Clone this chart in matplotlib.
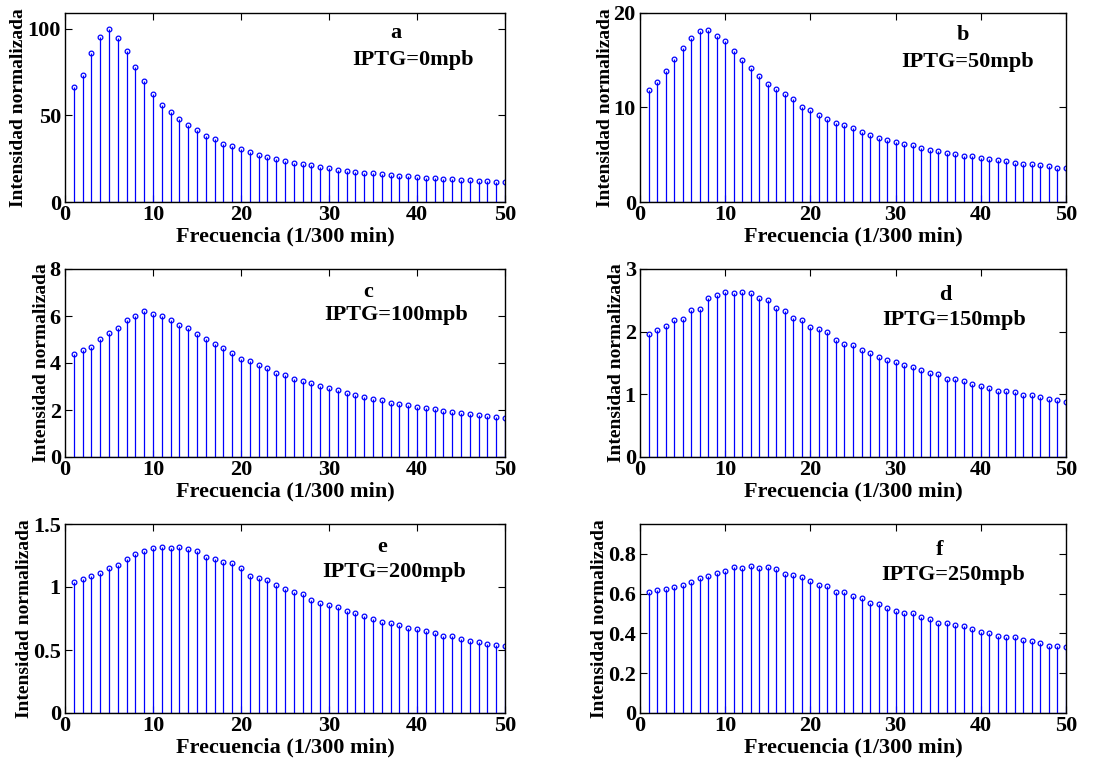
import numpy as np
import matplotlib
matplotlib.use('Agg')
import matplotlib.pyplot as plt

plt.rcParams['font.family'] = 'Liberation Serif'
plt.rcParams['font.weight'] = 'bold'

# frequency index
freq = np.arange(1, 51)

# normalized intensities
int_a = [66.5, 73.1, 85.8, 95.2, 100.0, 94.6, 87.1, 77.7, 69.6, 62.5,
         56.2, 51.9, 47.7, 44.6, 41.3, 38.1, 36.3, 33.7, 32.3, 30.4,
         28.8, 27.3, 25.8, 24.8, 23.5, 22.7, 21.7, 21.2, 20.0, 19.4,
         18.7, 18.1, 17.3, 16.9, 16.5, 16.0, 15.6, 15.2, 14.8, 14.2,
         14.0, 13.7, 13.5, 13.1, 12.7, 12.5, 12.3, 11.9, 11.7, 11.5]
int_b = [11.8, 12.7, 13.9, 15.1, 16.3, 17.4, 18.1, 18.2, 17.6, 17.0,
         16.0, 15.0, 14.2, 13.3, 12.5, 12.0, 11.4, 10.9, 10.1, 9.7,
         9.2, 8.8, 8.4, 8.1, 7.8, 7.4, 7.05, 6.8, 6.6, 6.35,
         6.1, 6.0, 5.7, 5.5, 5.35, 5.2, 5.05, 4.9, 4.85, 4.65,
         4.5, 4.4, 4.3, 4.15, 4.05, 4.0, 3.9, 3.8, 3.65, 3.6]
int_c = [4.39, 4.55, 4.67, 5.04, 5.27, 5.48, 5.82, 6.0, 6.22, 6.1,
         5.98, 5.84, 5.61, 5.47, 5.23, 5.01, 4.82, 4.62, 4.42, 4.19,
         4.09, 3.91, 3.78, 3.57, 3.47, 3.34, 3.22, 3.16, 3.03, 2.92,
         2.83, 2.71, 2.63, 2.56, 2.45, 2.41, 2.31, 2.25, 2.2, 2.12,
         2.08, 2.03, 1.97, 1.91, 1.86, 1.81, 1.77, 1.73, 1.69, 1.66]
int_d = [1.97, 2.02, 2.09, 2.18, 2.21, 2.35, 2.36, 2.54, 2.58, 2.64,
         2.62, 2.64, 2.61, 2.54, 2.50, 2.38, 2.33, 2.22, 2.19, 2.07,
         2.04, 1.99, 1.87, 1.81, 1.78, 1.71, 1.66, 1.60, 1.54, 1.52,
         1.47, 1.43, 1.39, 1.34, 1.32, 1.25, 1.24, 1.22, 1.17, 1.14,
         1.10, 1.06, 1.05, 1.04, 0.99, 0.99, 0.96, 0.93, 0.91, 0.88]
int_e = [1.037, 1.063, 1.087, 1.111, 1.148, 1.177, 1.222, 1.262, 1.286, 1.312,
         1.315, 1.310, 1.315, 1.302, 1.288, 1.241, 1.220, 1.198, 1.188, 1.153,
         1.085, 1.069, 1.053, 1.013, 0.981, 0.958, 0.944, 0.899, 0.876, 0.857,
         0.839, 0.812, 0.796, 0.772, 0.749, 0.720, 0.712, 0.701, 0.672, 0.664,
         0.651, 0.632, 0.608, 0.608, 0.590, 0.571, 0.566, 0.545, 0.537, 0.529]
int_f = [0.607, 0.616, 0.622, 0.632, 0.643, 0.656, 0.681, 0.690, 0.703, 0.713,
         0.732, 0.727, 0.740, 0.727, 0.732, 0.723, 0.701, 0.696, 0.685, 0.666,
         0.644, 0.639, 0.607, 0.607, 0.589, 0.577, 0.554, 0.547, 0.529, 0.513,
         0.503, 0.502, 0.483, 0.471, 0.451, 0.450, 0.443, 0.438, 0.423, 0.409,
         0.401, 0.389, 0.384, 0.381, 0.367, 0.361, 0.351, 0.339, 0.337, 0.331]

letters = ['a', 'b', 'c', 'd', 'e', 'f']
iptg = ['IPTG=0mpb', 'IPTG=50mpb', 'IPTG=100mpb', 'IPTG=150mpb',
        'IPTG=200mpb', 'IPTG=250mpb']
series = [int_a, int_b, int_c, int_d, int_e, int_f]
ytops = [109, 20, 8, 3, 1.5, 0.95]
yticks = [[0, 50, 100], [0, 10, 20], [0, 2, 4, 6, 8], [0, 1, 2, 3],
          [0, 0.5, 1, 1.5], [0, 0.2, 0.4, 0.6, 0.8]]
yticklabels = [['0', '50', '100'], ['0', '10', '20'], ['0', '2', '4', '6', '8'],
               ['0', '1', '2', '3'], ['0', '0.5', '1', '1.5'],
               ['0', '0.2', '0.4', '0.6', '0.8']]

# axes placement in pixels (left, top, right, bottom)
boxes = [(65, 13, 505, 202), (640, 13, 1066, 202),
         (65, 269, 505, 457), (640, 269, 1066, 457),
         (65, 524, 505, 713), (640, 524, 1066, 713)]
# text positions in axes fraction: letter (x, y), label (x, y)
letter_pos = [(0.752, 0.894), (0.758, 0.884), (0.69, 0.877),
              (0.716, 0.862), (0.722, 0.878), (0.704, 0.862)]
label_pos = [(0.791, 0.75), (0.768, 0.74), (0.752, 0.755),
             (0.737, 0.729), (0.747, 0.746), (0.735, 0.73)]

W, H = 1100, 761
fig = plt.figure(figsize=(W / 100, H / 100), dpi=100)

for i in range(6):
    l, t, r, b = boxes[i]
    ax = fig.add_axes([l / W, 1 - b / H, (r - l) / W, (b - t) / H])
    ml, sl, bl = ax.stem(freq, series[i], linefmt='-', markerfmt='o', basefmt='-')
    plt.setp(sl, color='#0000ff', linewidth=0.9)
    plt.setp(bl, color='#0000ff', linewidth=0.9)
    plt.setp(ml, color='#0000ff', markerfacecolor='none', markersize=3.4,
             markeredgewidth=0.9)
    ax.set_xlim(0, 50)
    ax.set_ylim(0, ytops[i])
    ax.set_xticks([0, 10, 20, 30, 40, 50])
    ax.set_yticks(yticks[i])
    ax.set_yticklabels(yticklabels[i])
    ax.tick_params(direction='in', top=True, right=True, length=5,
                   labelsize=16)
    ax.tick_params(axis='x', pad=2)
    ax.tick_params(axis='y', pad=3)
    for lab in ax.get_xticklabels() + ax.get_yticklabels():
        lab.set_fontweight('bold')
    for sp in ax.spines.values():
        sp.set_linewidth(1.0)
    ax.set_xlabel('Frecuencia (1/300 min)', fontsize=16, fontweight='bold',
                  labelpad=1)
    ax.set_ylabel('Intensidad normalizada', fontsize=14, fontweight='bold',
                  labelpad=0)
    ax.text(*letter_pos[i], letters[i], transform=ax.transAxes, ha='center',
            va='center', fontsize=16, fontweight='bold')
    ax.text(*label_pos[i], iptg[i], transform=ax.transAxes, ha='center',
            va='center', fontsize=16, fontweight='bold')

fig.savefig('out.png', dpi=100)
